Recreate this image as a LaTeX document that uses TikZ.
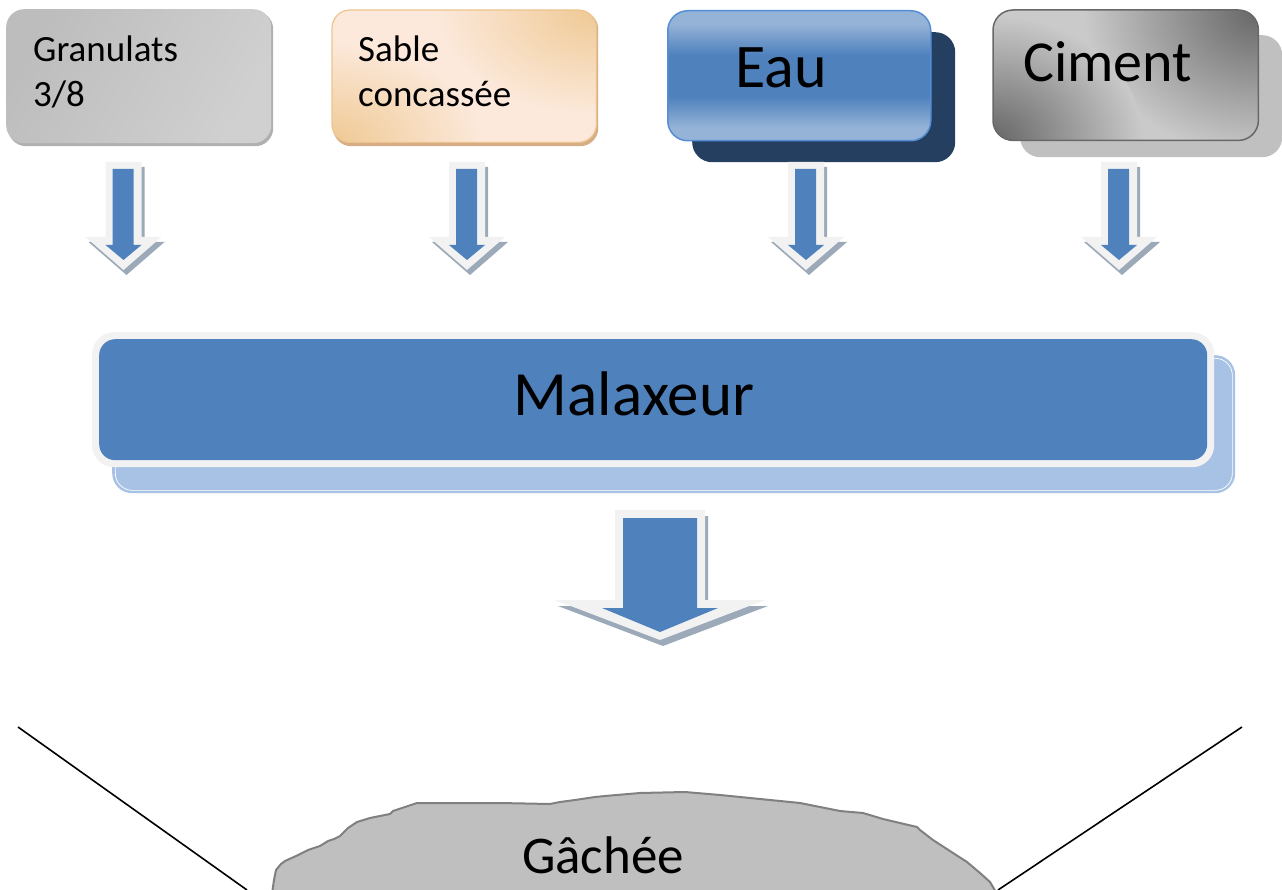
\documentclass[tikz,border=0pt]{standalone}
\usepackage{fontspec}
\setmainfont{Carlito}
\usetikzlibrary{calc}
\definecolor{blueMain}{HTML}{4F81BD}
\definecolor{arrLight}{HTML}{F2F2F2}
\definecolor{arrShadow}{HTML}{9BA9B9}
\definecolor{malShadow}{HTML}{A7C2E5}
\definecolor{eauShadow}{HTML}{243F60}
\definecolor{eauLight}{HTML}{95B3D7}
\definecolor{eauBorder}{HTML}{558ED5}
\definecolor{cimDark}{HTML}{666666}
\definecolor{cimLight}{HTML}{CACACA}
\definecolor{cimBorder}{HTML}{686868}
\definecolor{cimShadow}{HTML}{C0C0C0}
\definecolor{granA}{HTML}{BDBDBD}
\definecolor{granB}{HTML}{D0D0D0}
\definecolor{granShadow}{HTML}{B0B0B0}
\definecolor{sabDark}{HTML}{EFC994}
\definecolor{sabLight}{HTML}{FCE9DB}
\definecolor{sabBorder}{HTML}{EDC48E}
\definecolor{sabShadow}{HTML}{D6AE85}
\definecolor{blobFill}{HTML}{BFBFBF}
\definecolor{blobLine}{HTML}{808080}
\pgfdeclareverticalshading{eaushade}{100bp}{color(0bp)=(eauLight); color(30bp)=(eauLight); color(42bp)=(blueMain); color(58bp)=(blueMain); color(70bp)=(eauLight); color(100bp)=(eauLight)}
\begin{document}
\begin{tikzpicture}[x=1pt,y=-1pt,
  boxbase/.style={rectangle, inner sep=0pt, anchor=north west},
  lbl/.style={inner sep=0pt, text=black},
  smallarr/.pic={
    \fill[arrShadow, shift={(3,5)}] (-18,0) -- (18,0) -- (18,75) -- (38,75) -- (0,108) -- (-38,75) -- (-18,75) -- cycle;
    \fill[arrLight] (-18,0) -- (18,0) -- (18,75) -- (38,75) -- (0,108) -- (-38,75) -- (-18,75) -- cycle;
    \fill[blueMain] (-11,7) -- (10,7) -- (10,83) -- (18,83) -- (0,98) -- (-18,83) -- (-11,83) -- cycle;
  },
  bigarr/.pic={
    \fill[arrShadow, shift={(3,6)}] (-45,0) -- (45,0) -- (45,90) -- (105,90) -- (0,130) -- (-105,90) -- (-45,90) -- cycle;
    \fill[arrLight] (-45,0) -- (45,0) -- (45,90) -- (105,90) -- (0,130) -- (-105,90) -- (-45,90) -- cycle;
    \fill[blueMain] (-37,8) -- (37,8) -- (37,98) -- (58,98) -- (0,122) -- (-58,98) -- (-37,98) -- cycle;
  }]
\useasboundingbox (0,0) rectangle (1282,890);
\fill[white] (0,0) rectangle (1282,890);

% Granulats
\node[boxbase, fill=granShadow, rounded corners=18pt, minimum width=265pt, minimum height=135pt] (granS) at (8,11) {};
\node[boxbase, rounded corners=18pt, minimum width=265pt, minimum height=134pt, shading=axis, left color=granA, right color=granB, shading angle=60] (gran) at (6,9) {};
\node[lbl, anchor=base west, align=left, font=\fontsize{37}{45}\selectfont] (granT) at (33,107) {Granulats\\3/8};

% Sable
\node[boxbase, fill=sabShadow, rounded corners=18pt, minimum width=265pt, minimum height=135pt] (sabS) at (333,11) {};
\node[boxbase, fill=sabLight, rounded corners=18pt, minimum width=264pt, minimum height=132pt] (sab) at (332,10) {};
\begin{scope}
\clip[rounded corners=18pt] (sab.north west) rectangle (sab.south east);
\shade[inner color=sabDark, outer color=sabLight] (sab.north east) ellipse [x radius=160, y radius=105];
\shade[inner color=sabDark, outer color=sabLight] (sab.south west) ellipse [x radius=150, y radius=100];
\end{scope}
\draw[sabBorder, line width=1.2pt, rounded corners=18pt] (sab.north west) rectangle (sab.south east);
\node[lbl, anchor=base west, align=left, font=\fontsize{37}{45}\selectfont] (sabT) at (358,107) {Sable\\concassée};

% Eau
\node[boxbase, fill=eauShadow, rounded corners=20pt, minimum width=263pt, minimum height=130pt] (eauS) at (692,32) {};
\node[boxbase, draw=eauBorder, line width=1.5pt, rounded corners=20pt, minimum width=263pt, minimum height=130pt, shading=eaushade] (eau) at (667,10) {};
\node[lbl, anchor=base west, font=\fontsize{62}{70}\selectfont] (eauT) at (735,88) {Eau};

% Ciment
\node[boxbase, fill=cimShadow, rounded corners=20pt, minimum width=262pt, minimum height=122pt] (cimS) at (1020,35) {};
\node[boxbase, fill=cimLight, rounded corners=20pt, minimum width=265pt, minimum height=130pt] (cim) at (993,10) {};
\begin{scope}
\clip[rounded corners=20pt] (cim.north west) rectangle (cim.south east);
\shade[inner color=cimDark, outer color=cimLight] (cim.north east) ellipse [x radius=175, y radius=145];
\shade[inner color=cimDark, outer color=cimLight] (cim.south west) ellipse [x radius=150, y radius=125];
\end{scope}
\draw[cimBorder, line width=1.5pt, rounded corners=20pt] (cim.north west) rectangle (cim.south east);
\node[lbl, anchor=base west, font=\fontsize{58}{66}\selectfont] (cimT) at (1023,82) {Ciment};

% small arrows
\pic at (123.5,162) {smallarr};
\pic at (467,162) {smallarr};
\pic at (806,162) {smallarr};
\pic at (1119,162) {smallarr};

% Malaxeur
\node[boxbase, fill=malShadow, rounded corners=20pt, minimum width=1123pt, minimum height=138pt] (malS) at (112,355) {};
\node[boxbase, draw=white, line width=0.7pt, rounded corners=17pt, minimum width=1117pt, minimum height=132pt] (malL) at (115,358) {};
\node[boxbase, fill=arrLight, rounded corners=22pt, minimum width=1122pt, minimum height=135pt] (malB) at (92,332) {};
\node[boxbase, fill=blueMain, rounded corners=16pt, minimum width=1108pt, minimum height=121pt] (mal) at (99,339) {};
\node[lbl, anchor=base, font=\fontsize{63}{70}\selectfont] (malT) at (634,415) {Malaxeur};

% big arrow
\pic at (660,510) {bigarr};

% bowl lines
\draw[line width=1.6pt, black] (18,727) -- (247,890);
\draw[line width=1.6pt, black] (1242,727) -- (998,890);

% Gachee blob
\begin{scope}
\clip (0,0) rectangle (1282,890);
\filldraw[fill=blobFill, draw=blobLine, line width=2pt, line join=round]
 (272,894) -- (274,880) -- (276,870) -- (281,864) -- (285,861) -- (296,856) -- (308,850) -- (320,846) -- (328,841) -- (334,839) -- (340,836) -- (348,828) -- (357,822) -- (370,818) -- (390,814) -- (393,811) -- (405,807) -- (417,803) -- (440,803) -- (500,803) -- (550,804) -- (560,802) -- (575,800) -- (595,797) -- (605,796) -- (640,793) -- (685,792) -- (720,795) -- (760,799) -- (800,803) -- (840,811) -- (863,813) -- (883,819) -- (917,827) -- (920,830) -- (933,840) -- (953,853) -- (967,862) -- (980,873) -- (990,882) -- (997,894) -- cycle;
\end{scope}
\node[lbl, anchor=base, font=\fontsize{53}{60}\selectfont] (gacT) at (603,873) {Gâchée};
\end{tikzpicture}
\end{document}
